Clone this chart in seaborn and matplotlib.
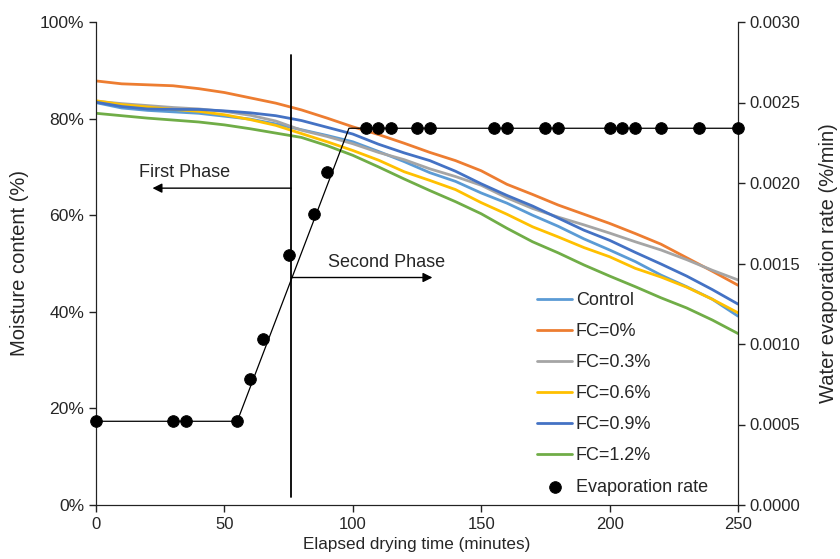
import numpy as np
import pandas as pd
import matplotlib
matplotlib.use("Agg")
import matplotlib.pyplot as plt
from matplotlib.ticker import PercentFormatter, FormatStrFormatter, MultipleLocator
import seaborn as sns

# ---------------- data ----------------
time_min = [0, 10, 20, 30, 40, 50, 60, 70, 80, 90, 100, 110, 120, 130, 140, 150,
            160, 170, 180, 190, 200, 210, 220, 230, 240, 250]
control = [83.3, 82.2, 81.7, 81.4, 81.1, 80.5, 79.9, 78.9, 77.7, 76.5, 75.2, 73.2, 71.1,
           68.8, 67.0, 64.6, 62.5, 60.0, 57.7, 55.1, 52.8, 50.4, 47.6, 45.2, 42.6, 39.1]
fc_0 = [87.8, 87.2, 87.0, 86.8, 86.2, 85.4, 84.3, 83.2, 81.8, 80.1, 78.3, 76.7, 74.9,
        73.0, 71.3, 69.2, 66.4, 64.3, 62.1, 60.2, 58.3, 56.2, 54.0, 51.2, 48.4, 45.5]
fc_03 = [83.6, 83.1, 82.7, 82.3, 82.0, 81.5, 80.7, 79.5, 77.6, 76.3, 74.8, 73.0, 71.5,
         69.6, 68.0, 66.2, 63.6, 61.4, 59.6, 58.0, 56.3, 54.5, 52.8, 50.8, 48.6, 46.6]
fc_06 = [83.7, 82.9, 82.4, 81.9, 81.5, 80.8, 79.8, 78.6, 76.9, 75.2, 73.4, 71.4, 69.0,
         67.2, 65.3, 62.6, 60.2, 57.6, 55.5, 53.3, 51.4, 49.0, 47.2, 45.1, 42.6, 39.8]
fc_09 = [83.4, 82.5, 82.0, 81.9, 81.9, 81.6, 81.2, 80.6, 79.6, 78.2, 76.8, 74.7, 72.9,
         71.3, 69.1, 66.5, 64.1, 61.9, 59.4, 56.9, 54.8, 52.3, 49.9, 47.4, 44.6, 41.6]
fc_12 = [81.1, 80.6, 80.1, 79.7, 79.3, 78.7, 77.9, 77.0, 76.1, 74.4, 72.4, 70.0, 67.5,
         65.1, 62.8, 60.3, 57.3, 54.5, 52.2, 49.7, 47.4, 45.2, 42.9, 40.8, 38.3, 35.5]
series_labels = ["Control", "FC=0%", "FC=0.3%", "FC=0.6%", "FC=0.9%", "FC=1.2%"]
series_colors = ["#5B9BD5", "#ED7D31", "#A5A5A5", "#FFC000", "#4472C4", "#70AD47"]

evap_time = [0, 30, 35, 55, 60, 65, 75, 85, 90, 105, 110, 115, 125, 130, 155, 160,
             175, 180, 200, 205, 210, 220, 235, 250]
evap_rate = [0.00052, 0.00052, 0.00052, 0.00052, 0.00078, 0.00103, 0.00155, 0.00181,
             0.00207, 0.00234, 0.00234, 0.00234, 0.00234, 0.00234, 0.00234, 0.00234,
             0.00234, 0.00234, 0.00234, 0.00234, 0.00234, 0.00234, 0.00234, 0.00234]
fit_time = [0, 55, 98.5, 250]
fit_rate = [0.00052, 0.00052, 0.00234, 0.00234]

phase_split = 76
first_arrow = (22, 65.6)
second_arrow = (131, 47.1)

# ---------------- figure ----------------
sns.set_style("ticks")
plt.rcParams["font.family"] = ["Liberation Sans", "DejaVu Sans"]
plt.rcParams["axes.edgecolor"] = "#222222"

fig = plt.figure(figsize=(8.4, 5.59), dpi=100)
ax1 = fig.add_axes([96 / 840, 1 - 505 / 559, (738 - 96) / 840, (505 - 22) / 559])

df = pd.DataFrame({
    "time": time_min * 6,
    "moisture": control + fc_0 + fc_03 + fc_06 + fc_09 + fc_12,
    "series": sum([[s] * len(time_min) for s in series_labels], []),
})
sns.lineplot(data=df, x="time", y="moisture", hue="series", hue_order=series_labels,
             palette=series_colors, linewidth=2.0, ax=ax1, legend=True)
h1, l1 = ax1.get_legend_handles_labels()
ax1.get_legend().remove()

ax1.set_xlim(0, 250)
ax1.set_ylim(0, 100)
ax1.xaxis.set_major_locator(MultipleLocator(50))
ax1.yaxis.set_major_locator(MultipleLocator(20))
ax1.yaxis.set_major_formatter(PercentFormatter(xmax=100, decimals=0))
ax1.set_xlabel("Elapsed drying time (minutes)", fontsize=12.3, labelpad=4)
ax1.set_ylabel("Moisture content (%)", fontsize=14.5, labelpad=8)
ax1.tick_params(labelsize=12, length=5, width=1, color="#222222")
ax1.tick_params(axis="y", labelsize=12.6)
ax1.spines["top"].set_visible(False)

# phase divider & arrows
ax1.plot([phase_split, phase_split], [1.7, 93.2], color="black", linewidth=1.3)
ax1.annotate("", xy=first_arrow, xytext=(phase_split, first_arrow[1]),
             arrowprops=dict(arrowstyle="-|>", color="black", lw=1.0,
                             mutation_scale=14, shrinkA=0, shrinkB=0))
ax1.annotate("", xy=second_arrow, xytext=(phase_split, second_arrow[1]),
             arrowprops=dict(arrowstyle="-|>", color="black", lw=1.0,
                             mutation_scale=14, shrinkA=0, shrinkB=0))
ax1.text(34.3, 68.9, "First Phase", fontsize=13, ha="center", va="center")
ax1.text(113, 50.3, "Second Phase", fontsize=13, ha="center", va="center")

# secondary axis: evaporation rate
ax2 = ax1.twinx()
ax2.plot(fit_time, fit_rate, color="black", linewidth=0.9)
sns.scatterplot(x=evap_time, y=evap_rate, color="black", s=70, edgecolor="black",
                ax=ax2, label="Evaporation rate", clip_on=False, zorder=5)
h2, l2 = ax2.get_legend_handles_labels()
ax2.get_legend().remove()
ax2.set_ylim(0, 0.003)
ax2.yaxis.set_major_locator(MultipleLocator(0.0005))
ax2.yaxis.set_major_formatter(FormatStrFormatter("%.4f"))
ax2.set_ylabel("Water evaporation rate (%/min)", fontsize=14.5, labelpad=13)
ax2.tick_params(labelsize=12, length=5, width=1, color="#222222")
ax2.spines["top"].set_visible(False)

leg = ax2.legend(h1 + h2, l1 + l2, loc="upper left",
                 bbox_to_anchor=(537 / 840, 1 - 292 / 559), bbox_transform=fig.transFigure,
                 frameon=False, fontsize=13, handlelength=1.95, handletextpad=0.2,
                 labelspacing=0.78, borderaxespad=0, borderpad=0)

fig.savefig("out.png", dpi=100)
